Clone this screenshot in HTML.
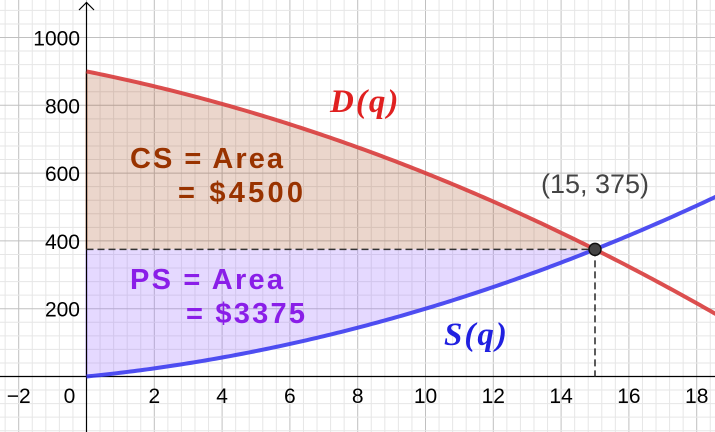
<!DOCTYPE html>
<html><head><meta charset="utf-8"><style>
body{margin:0;background:#fff}
svg{display:block;font-family:"Liberation Sans",sans-serif}
</style></head><body>
<svg id="c" width="715" height="432"></svg>
<script>
const xTicks=[-2,0,2,4,6,8,10,12,14,16,18];
const yTicks=[200,400,600,800,1000];
const demandCoef=[900,-20,-1];
const supplyCoef=[0,10,1];
const eqQ=[15];
const eqP=[375];
const csText=["CS = Area","= $4500"];
const psText=["PS = Area","= $3375"];
const NS="http://www.w3.org/2000/svg";
const svg=document.getElementById('c');
const X=q=>86.5+q*33.9, Y=p=>376.5-p*0.339;
const D=q=>demandCoef[0]+demandCoef[1]*q+demandCoef[2]*q*q;
const S=q=>supplyCoef[0]+supplyCoef[1]*q+supplyCoef[2]*q*q;
function mk(t,a,txt){const e=document.createElementNS(NS,t);for(const k in a)e.setAttribute(k,a[k]);if(txt!=null)e.textContent=txt;svg.appendChild(e);return e;}
for(let i=-20;i<=60;i++){const x=86.5+i*33.9/2.5;if(x<0||x>715)continue;
 const e=mk('line',{x1:x,y1:0,x2:x,y2:432,stroke:i%5==0?'#c0c0c0':'#e6e6e6','stroke-width':1});
 }
for(let i=-10;i<=40;i++){const y=376.5-i*13.56;if(y<0||y>432)continue;
 const e=mk('line',{x1:0,y1:y,x2:715,y2:y,stroke:i%5==0?'#c0c0c0':'#e6e6e6','stroke-width':1});
 }
const q0=eqQ[0],p0=eqP[0];
let cs=`M${X(0)},${Y(p0)}`;for(let q=0;q<=q0;q+=0.25)cs+=`L${X(q)},${Y(D(q))}`;cs+=`L${X(q0)},${Y(p0)}Z`;
let e=mk('path',{d:cs,fill:'rgba(153,51,0,0.2)'});

let ps=`M${X(0)},${Y(p0)}`;for(let q=0;q<=q0;q+=0.25)ps+=`L${X(q)},${Y(S(q))}`;ps+=`L${X(q0)},${Y(p0)}Z`;
e=mk('path',{d:ps,fill:'rgba(153,102,255,0.25)'});

e=mk('line',{x1:X(0),y1:Y(D(0)),x2:X(0),y2:Y(p0),stroke:'#993300','stroke-width':1.5});

e=mk('line',{x1:X(0),y1:Y(p0),x2:X(0),y2:Y(0),stroke:'#9966ff','stroke-width':1.5});

e=mk('line',{x1:0,y1:376.5,x2:715,y2:376.5,stroke:'#000','stroke-width':1.2});

e=mk('line',{x1:86.5,y1:432,x2:86.5,y2:2,stroke:'#000','stroke-width':1.2});

e=mk('path',{d:'M79,10L86.5,2.5L94,10',fill:'none',stroke:'#000','stroke-width':1.2});

xTicks.forEach(t=>{const x=t==0?X(0)-17:X(t);const l=mk('text',{x:x,y:403,'font-size':21,'text-anchor':'middle'},t<0?'\u2212'+(-t):String(t));
 });
yTicks.forEach(t=>{const l=mk('text',{x:80,y:Y(t)+8,'font-size':21,'text-anchor':'end'},String(t));
 });
e=mk('line',{x1:X(0),y1:Y(p0),x2:X(q0),y2:Y(p0),stroke:'#333','stroke-width':1.6,'stroke-dasharray':'7,4'});

e=mk('line',{x1:X(q0),y1:Y(p0),x2:X(q0),y2:Y(0),stroke:'#333','stroke-width':1.6,'stroke-dasharray':'7,4'});

let dp='',sp='';for(let q=0;q<=19;q+=0.1){dp+=(q?'L':'M')+X(q)+','+Y(D(q));sp+=(q?'L':'M')+X(q)+','+Y(S(q));}
e=mk('path',{d:dp,fill:'none',stroke:'#d83c3c','stroke-width':4,'stroke-opacity':0.9});

e=mk('path',{d:sp,fill:'none',stroke:'#3c3cf0','stroke-width':4,'stroke-opacity':0.9});

e=mk('circle',{cx:X(q0),cy:Y(p0),r:6,fill:'#444',stroke:'#111','stroke-width':1.5});

e=mk('text',{x:595,y:193,'font-size':27,fill:'#444','text-anchor':'middle'},'('+q0+', '+p0+')');

e=mk('text',{x:330,y:112,'font-size':33,fill:'#e02020','font-family':'Liberation Serif,serif','font-style':'italic','font-weight':'bold','letter-spacing':2},'D(q)');

e=mk('text',{x:444,y:345,'font-size':33,fill:'#2020e0','font-family':'Liberation Serif,serif','font-style':'italic','font-weight':'bold','letter-spacing':2},'S(q)');

e=mk('text',{x:130,y:168,'font-size':29,'font-weight':'bold',fill:'#993300','textLength':153},csText[0]);

e=mk('text',{x:178,y:202,'font-size':29,'font-weight':'bold',fill:'#993300','textLength':125},csText[1]);

e=mk('text',{x:130,y:289,'font-size':29,'font-weight':'bold',fill:'#8a1ee8','textLength':153},psText[0]);

e=mk('text',{x:186,y:323,'font-size':29,'font-weight':'bold',fill:'#8a1ee8','textLength':119},psText[1]);

</script>
</body></html>
